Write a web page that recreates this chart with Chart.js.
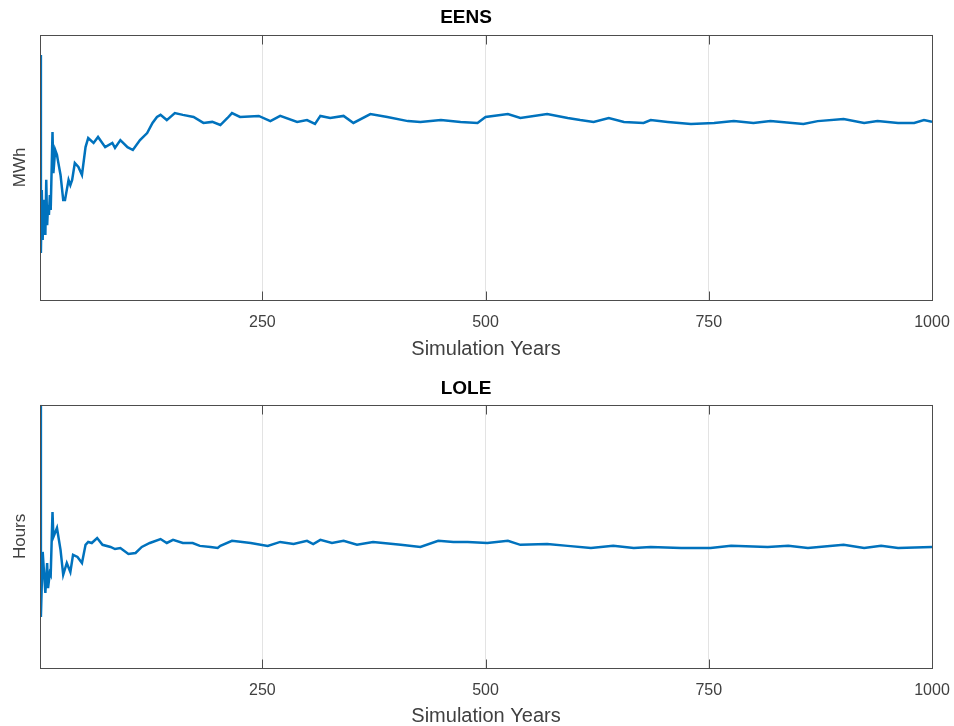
<!DOCTYPE html>
<html>
<head>
<meta charset="utf-8">
<script src="https://cdn.jsdelivr.net/npm/chart.js@4/dist/chart.umd.min.js"></script>
<style>
  html, body { margin: 0; padding: 0; background: #fff; overflow: hidden; }
  #wrap { position: relative; width: 954px; height: 726px; overflow: hidden; }
  canvas { position: absolute; left: 0; }
  #eensChart { top: 0; }
  #loleChart { top: 363px; }
</style>
</head>
<body>
<div id="wrap">
  <canvas id="eensChart" width="954" height="363"></canvas>
  <canvas id="loleChart" width="954" height="366"></canvas>
</div>
<script>
// tick labels along the simulation-year axis
var xTicks = [250, 500, 750, 1000];

// EENS running estimate (relative units)
var eensYears = [1, 2, 3, 4, 5, 7, 8, 9, 10, 11, 12, 13, 15, 16, 18, 20, 21, 24, 27, 29,
  33, 35, 37, 40, 44, 48, 52, 55, 61, 66, 74, 82, 85, 91, 99, 105, 113, 121, 127, 132,
  136, 143, 152, 161, 173, 184, 194, 203, 211, 216, 225, 246, 259, 270, 289, 300, 309, 315, 326, 341,
  352, 371, 390, 413, 427, 450, 472, 491, 500, 525, 539, 569, 592, 606, 621, 638, 655, 677, 685, 704,
  730, 756, 778, 800, 819, 856, 872, 901, 924, 939, 962, 980, 991, 1000];
var eensValues = [94.2, 18.1, 42.3, 23.1, 38.5, 25.0, 46.2, 28.8, 36.5, 32.7, 40.4, 34.6, 64.6, 48.8, 57.7, 55.8, 53.8, 48.1, 38.5, 38.5,
  46.2, 44.2, 46.2, 52.7, 51.2, 48.1, 58.8, 62.3, 60.4, 62.7, 58.8, 60.4, 58.5, 61.5, 58.8, 57.7, 61.5, 64.2, 68.1, 70.4,
  71.2, 69.2, 71.9, 71.2, 70.4, 68.1, 68.5, 67.3, 70.0, 71.9, 70.4, 70.8, 68.8, 70.8, 68.5, 69.2, 67.7, 70.8, 70.0, 70.8,
  68.1, 71.5, 70.4, 68.8, 68.5, 69.2, 68.5, 68.1, 70.4, 71.5, 70.0, 71.5, 70.0, 69.2, 68.5, 70.0, 68.5, 68.1, 69.2, 68.5,
  67.7, 68.1, 68.8, 68.1, 68.8, 67.7, 68.8, 69.6, 68.1, 68.8, 68.1, 68.1, 69.2, 68.5];

// LOLE running estimate (relative units)
var loleYears = [1, 2, 4, 7, 9, 10, 12, 13, 15, 16, 20, 24, 27, 31, 35, 38, 43, 48, 52, 55,
  59, 65, 71, 80, 85, 91, 100, 108, 115, 124, 136, 143, 150, 161, 172, 180, 192, 200, 203, 216,
  237, 256, 270, 285, 300, 307, 315, 328, 341, 356, 374, 405, 427, 447, 464, 480, 502, 525, 539, 569,
  592, 618, 643, 666, 685, 719, 752, 775, 816, 839, 861, 901, 924, 943, 962, 1000];
var loleValues = [100, 19.4, 44.1, 28.5, 39.9, 30.4, 36.1, 35.4, 59.3, 49.8, 53.2, 44.9, 35.4, 39.9, 36.5, 43.0, 42.2, 39.9, 46.8, 47.9,
  47.5, 49.4, 46.8, 46.0, 45.2, 45.6, 43.3, 43.7, 46.0, 47.5, 49.0, 47.5, 48.7, 47.5, 47.5, 46.4, 46.0, 45.6, 46.4, 48.3,
  47.5, 46.4, 47.9, 47.1, 48.3, 47.1, 48.7, 47.5, 48.3, 46.8, 47.9, 46.8, 46.0, 48.3, 47.9, 47.9, 47.5, 48.3, 46.8, 47.1,
  46.4, 45.6, 46.4, 45.6, 46.0, 45.6, 45.6, 46.4, 46.0, 46.4, 45.6, 46.8, 45.6, 46.4, 45.6, 46.0];

var FONT = "'Liberation Sans', Arial, Helvetica, sans-serif";
var TEXT = '#404040';

// MATLAB-style box around the axes, with inward tick marks top and bottom
var boxPlugin = {
  id: 'axesBox',
  afterDatasetsDraw: function (chart) {
    var a = chart.chartArea, c = chart.ctx, xs = chart.scales.x;
    var l = Math.round(a.left) + 0.5, t = Math.round(a.top) + 0.5;
    var r = Math.round(a.right) + 0.5, b = Math.round(a.bottom) + 0.5;
    c.save();
    c.strokeStyle = '#4d4d4d';
    c.lineWidth = 1;
    c.strokeRect(l, t, r - l, b - t);
    c.beginPath();
    xTicks.forEach(function (v) {
      var px = Math.round(xs.getPixelForValue(v)) + 0.5;
      c.moveTo(px, b); c.lineTo(px, b - 9);
      c.moveTo(px, t); c.lineTo(px, t + 9);
    });
    c.stroke();
    c.restore();
  }
};

function pairs(xs, ys) {
  return xs.map(function (x, i) { return { x: x, y: ys[i] }; });
}

function makeChart(id, title, yTitle, xs, ys, yMax, titlePad, xAxisHeight, xTitlePad) {
  var ctx = document.getElementById(id).getContext('2d');
  return new Chart(ctx, {
    type: 'line',
    data: {
      datasets: [{
        data: pairs(xs, ys),
        borderColor: '#0072BD',
        borderWidth: 2.5,
        pointRadius: 0,
        tension: 0,
        fill: false
      }]
    },
    plugins: [boxPlugin],
    options: {
      responsive: false,
      devicePixelRatio: 1,
      animation: false,
      layout: { padding: { left: 0, right: 22, top: 0, bottom: 0 } },
      plugins: {
        legend: { display: false },
        tooltip: { enabled: false },
        title: {
          display: true,
          text: title,
          color: '#000',
          font: { family: FONT, size: 19, weight: 'bold' },
          padding: titlePad
        }
      },
      scales: {
        x: {
          type: 'linear',
          min: 1,
          max: 1000,
          afterBuildTicks: function (s) {
            s.ticks = xTicks.map(function (v) { return { value: v }; });
          },
          afterFit: function (s) {
            s.height = xAxisHeight;
            s.paddingLeft = 0;
            s.paddingRight = 0;
          },
          grid: { display: true, color: '#e3e3e3', lineWidth: 1, drawTicks: false },
          border: { display: false },
          ticks: {
            color: TEXT,
            padding: 13,
            maxRotation: 0,
            font: { family: FONT, size: 16 },
            callback: function (v) { return String(v); }
          },
          title: {
            display: true,
            text: 'Simulation Years',
            color: TEXT,
            font: { family: FONT, size: 20 },
            padding: { top: xTitlePad, bottom: xTitlePad }
          }
        },
        y: {
          min: 0,
          max: yMax,
          afterFit: function (s) { s.width = 40; },
          grid: { display: false },
          border: { display: false },
          ticks: { display: false },
          title: {
            display: true,
            text: yTitle,
            color: TEXT,
            font: { family: FONT, size: 17 },
            padding: { top: 10, bottom: 0 }
          }
        }
      }
    }
  });
}

makeChart('eensChart', 'EENS', 'MWh', eensYears, eensValues, 102, { top: 6, bottom: 6 }, 63, 2);
makeChart('loleChart', 'LOLE', 'Hours', loleYears, loleValues, 100, { top: 14, bottom: 5 }, 61, 1);
</script>
</body>
</html>
